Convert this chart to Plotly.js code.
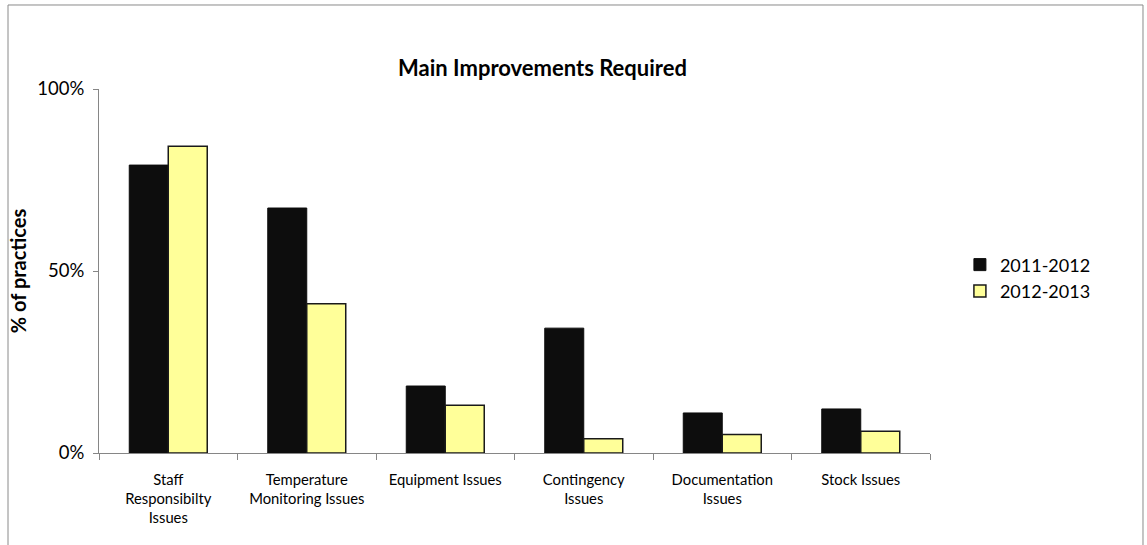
<!DOCTYPE html>
<html>
<head>
<meta charset="utf-8">
<script src="https://cdn.plot.ly/plotly-3.0.1.min.js"></script>
<style>html,body{margin:0;padding:0;background:#fff;}#chart{width:1147px;height:545px;}</style>
</head>
<body>
<div id="chart"></div>
<script>
const categories = ["Staff<br>Responsibilty<br>Issues", "Temperature<br>Monitoring Issues", "Equipment Issues", "Contingency<br>Issues", "Documentation<br>Issues", "Stock Issues"];
const series2011 = [0.791, 0.673, 0.184, 0.343, 0.110, 0.121];
const series2012 = [0.843, 0.410, 0.131, 0.039, 0.051, 0.060];
const seriesNames = ["2011-2012", "2012-2013"];
const yTickVals = [0, 0.5, 1];
const yTickText = ["0%", "50%", "100%"];

const FONT = "Lato, 'Open Sans', sans-serif";

const traces = [
  {type: "bar", name: seriesNames[0], x: categories, y: series2011,
   marker: {color: "#0d0d0d", line: {color: "#0d0d0d", width: 1}}},
  {type: "bar", name: seriesNames[1], x: categories, y: series2012,
   marker: {color: "#ffff99", line: {color: "#1a1a1a", width: 1.5}}}
];

const layout = {
  width: 1147, height: 545,
  margin: {l: 99, r: 217, t: 89, b: 92, pad: 0},
  paper_bgcolor: "#ffffff", plot_bgcolor: "#ffffff",
  font: {family: FONT, color: "#000"},
  barmode: "group", bargap: 0.437, bargroupgap: 0,
  showlegend: true,
  title: {text: "<b>Main Improvements Required</b>", font: {size: 22, family: FONT, color: "#000"},
          x: 0.473, xanchor: "center", y: 0.875, yanchor: "middle", xref: "container", yref: "container"},
  xaxis: {
    type: "category", tickson: "boundaries", ticks: "outside", ticklen: 6, tickcolor: "#868686",
    showline: true, linecolor: "#868686", linewidth: 1, showgrid: false, zeroline: false,
    tickfont: {size: 14.8, family: FONT, color: "#000"}, tickangle: 0, automargin: false,
    ticklabelstandoff: 13
  },
  yaxis: {
    range: [0, 1], tickvals: yTickVals, ticktext: yTickText, ticks: "outside", ticklen: 5, tickcolor: "#868686",
    showline: true, linecolor: "#868686", linewidth: 1, showgrid: false, zeroline: false,
    tickfont: {size: 18.5, family: FONT, color: "#000"}, automargin: false, ticklabelstandoff: 5,
    title: {text: "<b>% of practices</b>", font: {size: 20, family: FONT, color: "#000"}, standoff: 5}
  },
  legend: {x: 1.036, xanchor: "left", y: 0.481, yanchor: "middle", bgcolor: "rgba(0,0,0,0)",
           font: {size: 18, family: FONT, color: "#000"}, itemwidth: 30, tracegroupgap: 0},
  shapes: [
    {type: "rect", xref: "paper", yref: "paper", x0: -0.1095, x1: 1.2563, y0: -0.27, y1: 1.2308,
     line: {color: "#8a8a8a", width: 1}, fillcolor: "rgba(0,0,0,0)", layer: "below"}
  ]
};

Plotly.newPlot("chart", traces, layout, {displayModeBar: false, staticPlot: true});
</script>
</body>
</html>
